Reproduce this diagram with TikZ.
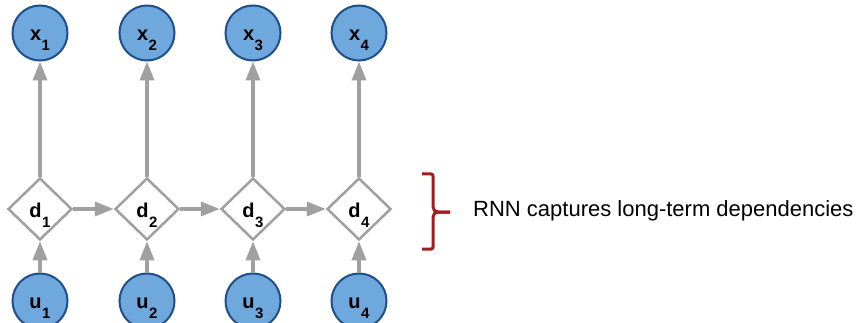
\documentclass[tikz,border=0pt]{standalone}
\usepackage{fontspec}
\setmainfont{Liberation Sans}
\usetikzlibrary{arrows.meta,shapes.geometric}
\definecolor{cfill}{HTML}{6FA8DC}
\definecolor{cdraw}{HTML}{1F4E8C}
\definecolor{agray}{HTML}{A0A0A0}
\definecolor{bred}{HTML}{A61C1C}
\newcommand{\lab}[2]{\textbf{#1}\kern0.5pt\raisebox{-10pt}{\fontsize{15}{15}\selectfont\textbf{#2}}}
\tikzset{
  x=1pt,y=-1pt,
  vcirc/.style={circle,fill=cfill,draw=cdraw,line width=2pt,minimum size=55pt,inner sep=0pt,
    font=\fontsize{20}{20}\selectfont,text height=15pt,text depth=0pt},
  dbox/.style={diamond,draw=agray,fill=white,line width=2.5pt,minimum width=64pt,minimum height=62pt,inner sep=0pt,
    font=\fontsize{20}{20}\selectfont,text height=17pt,text depth=0pt},
  conn/.style={draw=agray,line width=3.5pt,-{Triangle[length=19pt,width=14pt]}},
}
\begin{document}
\begin{tikzpicture}
\useasboundingbox (0,0) rectangle (856,323);
\foreach \i/\xx in {1/40,2/147,3/253,4/359}{
  \node[vcirc] (x\i) at (\xx,33) {\lab{x}{\i}};
  \node[dbox] (d\i) at (\xx,209) {\lab{d}{\i}};
  \node[vcirc] (u\i) at (\xx,301) {\lab{u}{\i}};
  \draw[conn] (d\i) -- (x\i);
  \draw[conn] (u\i) -- (d\i);
}
\draw[conn] (d1) -- (d2);
\draw[conn] (d2) -- (d3);
\draw[conn] (d3) -- (d4);
\draw[bred,line width=3pt,rounded corners=2pt] (422,174) -- (433,174) -- (433,209) -- (436,212) -- (450,212);
\draw[bred,line width=3pt,rounded corners=2pt] (450,212) -- (436,212) -- (433,215) -- (433,249) -- (422,249);
\node[anchor=west,font=\fontsize{22}{22}\selectfont,inner sep=0pt] (t) at (473,211) {RNN captures long-term dependencies};
\end{tikzpicture}
\end{document}
